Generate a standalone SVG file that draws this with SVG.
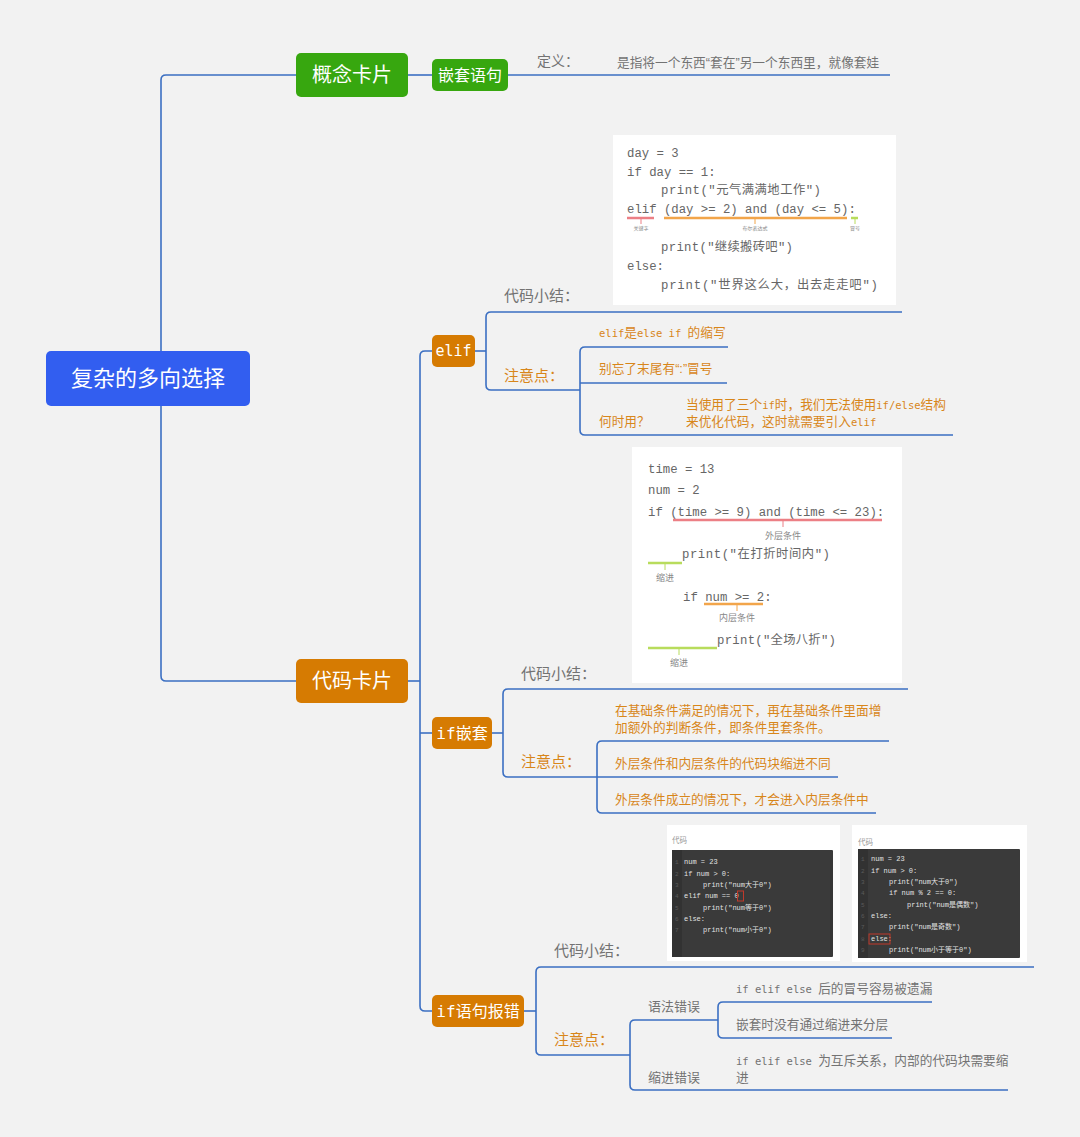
<svg xmlns="http://www.w3.org/2000/svg" width="1080" height="1137" viewBox="0 0 1080 1137">
<style>
.bg{fill:#f2f2f2}
.con{fill:none;stroke:#3b6fc2;stroke-width:1.6}
.root{fill:#325ef0}
.green{fill:#37a70f}
.orange{fill:#d67b02}
.nt{fill:#fff;font-family:"Noto Sans CJK SC","Noto Sans",sans-serif;text-anchor:middle}
.nm{fill:#fff;font-family:"DejaVu Sans Mono","Noto Sans CJK SC",monospace;text-anchor:middle}
.gray{fill:#737373;font-family:"Noto Sans CJK SC","Noto Sans",sans-serif}
.or{fill:#d8861a;font-family:"Noto Sans CJK SC","Noto Sans",sans-serif}
.lat{font-family:"DejaVu Sans Mono",monospace;font-size:10.5px}
.q{font-family:"Liberation Sans",sans-serif}
.card{fill:#fff}
.code{fill:#666;font-family:"Liberation Mono","Noto Sans CJK SC",monospace;font-size:12.3px}
.tiny{fill:#888;font-family:"Noto Sans CJK SC",sans-serif;text-anchor:middle}
.lbl{fill:#999;font-family:"Noto Sans CJK SC",sans-serif;font-size:7.5px}
.dark{fill:#3a3a3a}
.gut{fill:#323232}
.dc{fill:#e2e2e2;font-family:"Liberation Mono","Noto Sans CJK SC",monospace;font-size:7px}
.ln{fill:#5a5a5a;font-family:"Liberation Mono",monospace;font-size:6px}
.ul{fill:none;stroke-width:2.5}
.tk{fill:none;stroke-width:1}
</style>
<rect class="bg" x="0" y="0" width="1080" height="1137"/>

<g id="connectors">
<path class="con" d="M296 75 H166 Q161 75 161 80 V676 Q161 681 166 681 H296"/>
<path class="con" d="M408 75 H432"/>
<path class="con" d="M508 75 H890"/>
<path class="con" d="M408 681 H420"/>
<path class="con" d="M432 351 H425 Q420 351 420 356 V1006 Q420 1011 425 1011 H432"/>
<path class="con" d="M420 733 H432"/>
<path class="con" d="M475 351 H486"/>
<path class="con" d="M902 312 H491 Q486 312 486 317 V385 Q486 390 491 390 H580"/>
<path class="con" d="M728 347 H585 Q580 347 580 352 V430 Q580 435 585 435 H953"/>
<path class="con" d="M580 383 H727"/>
<path class="con" d="M492 733 H503"/>
<path class="con" d="M908 689 H508 Q503 689 503 694 V772 Q503 777 508 777 H838"/>
<path class="con" d="M889 741 H602 Q597 741 597 746 V808 Q597 813 602 813 H876"/>
<path class="con" d="M524 1011 H536"/>
<path class="con" d="M1034 967 H541 Q536 967 536 972 V1050 Q536 1055 541 1055 H630"/>
<path class="con" d="M718 1020 H635 Q630 1020 630 1025 V1085 Q630 1090 635 1090 H1008"/>
<path class="con" d="M932 1002 H723 Q718 1002 718 1007 V1033 Q718 1038 723 1038 H892"/>
</g>

<g id="root">
<rect class="root" x="46" y="351" width="204" height="55" rx="5"/>
<text class="nt" x="148" y="386" font-size="22">复杂的多向选择</text>
</g>

<g id="concept">
<rect class="green" x="296" y="53" width="112" height="44" rx="5"/>
<text class="nt" x="352" y="82" font-size="20">概念卡片</text>
</g>

<g id="nested-stmt">
<rect class="green" x="432" y="59" width="76" height="32" rx="5"/>
<text class="nt" x="470" y="81" font-size="16">嵌套语句</text>
<text class="gray" x="537" y="66" font-size="14">定义：</text>
<text class="gray" x="617" y="67" font-size="12.7">是指将一个东西<tspan class="q">“</tspan>套在<tspan class="q">”</tspan>另一个东西里，就像套娃</text>
</g>

<g id="codecard">
<rect class="orange" x="296" y="659" width="112" height="44" rx="5"/>
<text class="nt" x="352" y="688" font-size="20">代码卡片</text>
</g>

<g id="elif">
<rect class="orange" x="432" y="335" width="43" height="32" rx="5"/>
<text class="nm" x="453.5" y="356" font-size="15">elif</text>
</g>

<g id="elif-summary">
<text class="gray" x="504" y="301" font-size="15">代码小结：</text>
<rect class="card" x="613" y="135" width="283" height="170"/>
<text class="code" x="627" y="157">day = 3</text>
<text class="code" x="627" y="176">if day == 1:</text>
<text class="code" x="661" y="194" textLength="160">print("元气满满地工作")</text>
<text class="code" x="627" y="213">elif (day &gt;= 2) and (day &lt;= 5):</text>
<path class="ul" stroke="#ec7f85" d="M627 218 H654"/>
<path class="tk" stroke="#ec7f85" d="M641 218 V224"/>
<path class="ul" stroke="#f2a54a" d="M664 218 H847"/>
<path class="tk" stroke="#f2a54a" d="M755 218 V224"/>
<path class="ul" stroke="#b8dc5c" d="M851 218 H858"/>
<path class="tk" stroke="#b8dc5c" d="M855 218 V224"/>
<text class="tiny" x="641" y="230" font-size="5">关键字</text>
<text class="tiny" x="755" y="230" font-size="5">布尔表达式</text>
<text class="tiny" x="855" y="230" font-size="5">冒号</text>
<text class="code" x="661" y="251" textLength="132">print("继续搬砖吧")</text>
<text class="code" x="627" y="270">else:</text>
<text class="code" x="661" y="289" textLength="217">print("世界这么大，出去走走吧")</text>
</g>

<g id="elif-notes">
<text class="or" x="504" y="381" font-size="15">注意点：</text>
<text class="or" x="599" y="337" font-size="12.7"><tspan class="lat">elif</tspan>是<tspan class="lat">else if </tspan>的缩写</text>
<text class="or" x="599" y="373" font-size="12.7">别忘了末尾有<tspan class="q">“:”</tspan>冒号</text>
<text class="or" x="599" y="426" font-size="12.7">何时用？</text>
<text class="or" x="686" y="409" font-size="12.7">当使用了三个<tspan class="lat">if</tspan>时，我们无法使用<tspan class="lat">if/else</tspan>结构</text>
<text class="or" x="686" y="426" font-size="12.7">来优化代码，这时就需要引入<tspan class="lat">elif</tspan></text>
</g>

<g id="ifnest">
<rect class="orange" x="432" y="717" width="60" height="32" rx="5"/>
<text class="nm" x="462" y="739" font-size="16">if嵌套</text>
</g>

<g id="ifnest-summary">
<text class="gray" x="521" y="679" font-size="15">代码小结：</text>
<rect class="card" x="632" y="447" width="270" height="236"/>
<text class="code" x="648" y="473">time = 13</text>
<text class="code" x="648" y="494">num = 2</text>
<text class="code" x="648" y="516">if (time &gt;= 9) and (time &lt;= 23):</text>
<path class="ul" stroke="#ec7f85" d="M673 520 H882"/>
<path class="tk" stroke="#ec7f85" d="M783 520 V527"/>
<text class="tiny" x="783" y="539" font-size="9">外层条件</text>
<text class="code" x="682" y="558" textLength="148">print("在打折时间内")</text>
<path class="ul" stroke="#b8dc5c" d="M648 563 H682"/>
<path class="tk" stroke="#b8dc5c" d="M665 563 V570"/>
<text class="tiny" x="665" y="581" font-size="9">缩进</text>
<text class="code" x="683" y="601">if num &gt;= 2:</text>
<path class="ul" stroke="#f2a54a" d="M704 604 H763"/>
<path class="tk" stroke="#f2a54a" d="M737 604 V611"/>
<text class="tiny" x="737" y="621" font-size="9">内层条件</text>
<text class="code" x="717" y="644" textLength="119">print("全场八折")</text>
<path class="ul" stroke="#b8dc5c" d="M648 648 H717"/>
<path class="tk" stroke="#b8dc5c" d="M679 648 V655"/>
<text class="tiny" x="679" y="666" font-size="9">缩进</text>
</g>

<g id="ifnest-notes">
<text class="or" x="521" y="767" font-size="15">注意点：</text>
<text class="or" x="615" y="715" font-size="12.7">在基础条件满足的情况下，再在基础条件里面增</text>
<text class="or" x="615" y="732" font-size="12.7">加额外的判断条件，即条件里套条件。</text>
<text class="or" x="615" y="768" font-size="12.7">外层条件和内层条件的代码块缩进不同</text>
<text class="or" x="615" y="804" font-size="12.7">外层条件成立的情况下，才会进入内层条件中</text>
</g>

<g id="iferr">
<rect class="orange" x="432" y="995" width="92" height="32" rx="5"/>
<text class="nm" x="478" y="1017" font-size="16">if语句报错</text>
</g>

<g id="iferr-summary">
<text class="gray" x="554" y="956" font-size="15">代码小结：</text>
<rect class="card" x="667" y="825" width="173" height="136"/>
<text class="lbl" x="672" y="843">代码</text>
<rect class="dark" x="672" y="850" width="161" height="107" rx="1"/>
<rect class="gut" x="672" y="850" width="10" height="107"/>
<text class="ln" x="675" y="864">1</text>
<text class="ln" x="675" y="876">2</text>
<text class="ln" x="675" y="887">3</text>
<text class="ln" x="675" y="898">4</text>
<text class="ln" x="675" y="910">5</text>
<text class="ln" x="675" y="921">6</text>
<text class="ln" x="675" y="932">7</text>
<text class="dc" x="684" y="864">num = 23</text>
<text class="dc" x="684" y="876">if num &gt; 0:</text>
<text class="dc" x="703" y="887">print("num大于0")</text>
<text class="dc" x="684" y="898">elif num == 0</text>
<rect x="737.5" y="891" width="6" height="10" fill="none" stroke="#c0392b" stroke-width="1"/>
<text class="dc" x="703" y="910">print("num等于0")</text>
<text class="dc" x="684" y="921">else:</text>
<text class="dc" x="703" y="932">print("num小于0")</text>

<rect class="card" x="852" y="825" width="175" height="137"/>
<text class="lbl" x="858" y="845">代码</text>
<rect class="dark" x="858" y="849" width="162" height="109" rx="1"/>
<rect class="gut" x="858" y="849" width="10" height="109"/>
<text class="ln" x="861" y="861">1</text>
<text class="ln" x="861" y="873">2</text>
<text class="ln" x="861" y="884">3</text>
<text class="ln" x="861" y="895">4</text>
<text class="ln" x="861" y="907">5</text>
<text class="ln" x="861" y="918">6</text>
<text class="ln" x="861" y="929">7</text>
<text class="ln" x="861" y="941">8</text>
<text class="ln" x="861" y="952">9</text>
<text class="dc" x="871" y="861">num = 23</text>
<text class="dc" x="871" y="873">if num &gt; 0:</text>
<text class="dc" x="889" y="884">print("num大于0")</text>
<text class="dc" x="889" y="895">if num % 2 == 0:</text>
<text class="dc" x="907" y="907">print("num是偶数")</text>
<text class="dc" x="871" y="918">else:</text>
<text class="dc" x="889" y="929">print("num是奇数")</text>
<text class="dc" x="871" y="941">else:</text>
<rect x="869" y="934" width="21" height="10" fill="none" stroke="#c0392b" stroke-width="1"/>
<text class="dc" x="889" y="952">print("num小于等于0")</text>
</g>

<g id="iferr-notes">
<text class="or" x="554" y="1045" font-size="15">注意点：</text>
<text class="gray" x="648" y="1011" font-size="13">语法错误</text>
<text class="gray" x="736" y="993" font-size="12.7"><tspan class="lat">if elif else </tspan>后的冒号容易被遗漏</text>
<text class="gray" x="736" y="1029" font-size="12.7">嵌套时没有通过缩进来分层</text>
<text class="gray" x="648" y="1082" font-size="13">缩进错误</text>
<text class="gray" x="736" y="1065" font-size="12.7"><tspan class="lat">if elif else </tspan>为互斥关系，内部的代码块需要缩</text>
<text class="gray" x="736" y="1082" font-size="12.7">进</text>
</g>
</svg>
